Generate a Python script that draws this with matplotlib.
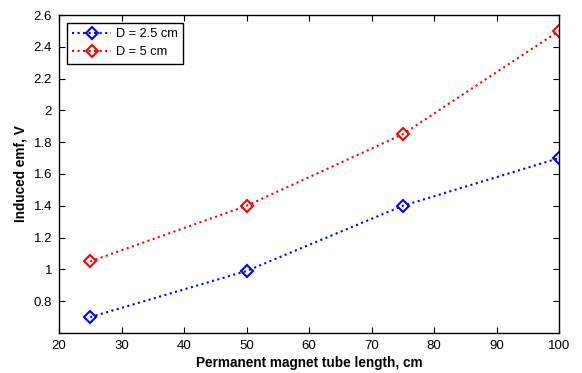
import numpy as np
import matplotlib
matplotlib.use('Agg')
import matplotlib.pyplot as plt

# Data
length_cm = [25, 50, 75, 100]
emf_d25 = [0.70, 0.99, 1.40, 1.70]
emf_d5 = [1.05, 1.40, 1.85, 2.50]
yticks = [0.8, 1, 1.2, 1.4, 1.6, 1.8, 2, 2.2, 2.4, 2.6]
yticklabels = ['0.8', '1', '1.2', '1.4', '1.6', '1.8', '2', '2.2', '2.4', '2.6']

plt.rc('font', family='Liberation Sans', size=9.5)

fig = plt.figure(figsize=(5.82, 3.73), dpi=100)
ax = fig.add_axes([59/582, 1 - 333/373, 500/582, 318/373])

ax.plot(length_cm, emf_d25, ':', color='blue', lw=1.5, marker='D',
        markersize=6.5, markerfacecolor='none', markeredgewidth=1.5,
        label='D = 2.5 cm')
ax.plot(length_cm, emf_d5, ':', color='red', lw=1.5, marker='D',
        markersize=6.5, markerfacecolor='none', markeredgewidth=1.5,
        label='D = 5 cm')

ax.set_xlim(20, 100)
ax.set_ylim(0.6, 2.6)
ax.set_xticks(np.arange(20, 101, 10))
ax.set_yticks(yticks)
ax.set_yticklabels(yticklabels)
ax.tick_params(direction='in', top=True, right=True, length=4, width=0.8,
               labelsize=9.5, pad=5)
for s in ax.spines.values():
    s.set_linewidth(1.0)

ax.set_xlabel('Permanent magnet tube length, cm', fontweight='bold',
              fontsize=9.8, labelpad=3)
ax.set_ylabel('Induced emf, V', fontweight='bold', fontsize=9.8)

leg = ax.legend(loc='upper left', fancybox=False, framealpha=1,
                edgecolor='black', fontsize=9.2, handlelength=3,
                borderaxespad=0.6, handletextpad=0.4, borderpad=0.45,
                labelspacing=0.45)
leg.get_frame().set_linewidth(1.0)

fig.savefig('out.png', dpi=100)
